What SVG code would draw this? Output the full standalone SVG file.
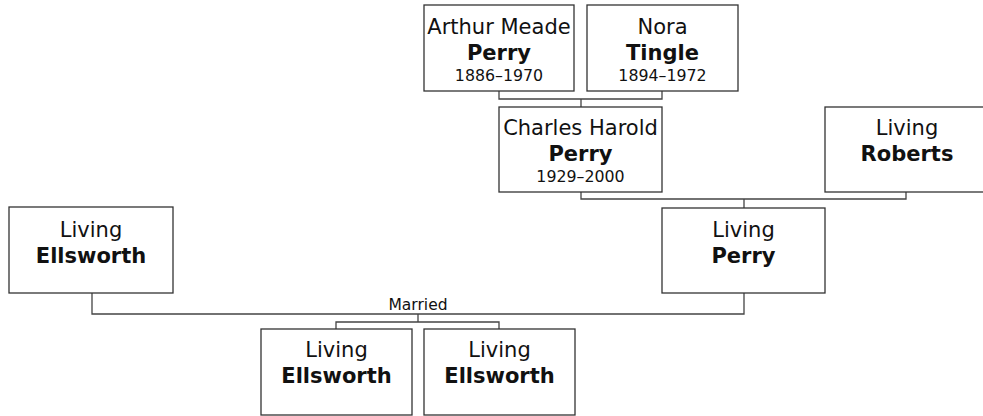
<svg xmlns="http://www.w3.org/2000/svg" width="983" height="416" viewBox="0 0 983 416">
<style>
.box{fill:#fff;stroke:#333;stroke-width:1.3}
.ln{fill:none;stroke:#444;stroke-width:1.3}
text{font-family:"DejaVu Sans","Verdana",sans-serif;text-anchor:middle;fill:#111}
.n{font-size:21px}
.b{font-size:21px;font-weight:bold}
.d{font-size:15.8px}
.m{font-size:15.5px}
</style>
<rect width="983" height="416" fill="#fff"/>
<g id="connectors">
<path class="ln" d="M499,91 V99 H662 V91 M581,99 V107"/>
<path class="ln" d="M581,192 V199 H906 V192 M744,199 V208"/>
<path class="ln" d="M92,293 V314 H744 V293 M418,314 V322 M336,329 V322 H499 V329"/>
<text class="m" x="418" y="310">Married</text>
</g>
<g id="arthur">
<rect class="box" x="424" y="5" width="150" height="86"/>
<text class="n" x="499" y="34">Arthur Meade</text>
<text class="b" x="499" y="60">Perry</text>
<text class="d" x="499" y="81">1886–1970</text>
</g>
<g id="nora">
<rect class="box" x="587" y="5" width="151" height="86"/>
<text class="n" x="662.5" y="34">Nora</text>
<text class="b" x="662.5" y="60">Tingle</text>
<text class="d" x="662.5" y="81">1894–1972</text>
</g>
<g id="charles">
<rect class="box" x="499" y="107" width="163" height="85"/>
<text class="n" x="580.5" y="135">Charles Harold</text>
<text class="b" x="580.5" y="161">Perry</text>
<text class="d" x="580.5" y="182">1929–2000</text>
</g>
<g id="roberts">
<rect class="box" x="825" y="107" width="164" height="85"/>
<text class="n" x="907" y="135">Living</text>
<text class="b" x="907" y="161">Roberts</text>
</g>
<g id="perry">
<rect class="box" x="662" y="208" width="163" height="85"/>
<text class="n" x="743.5" y="237">Living</text>
<text class="b" x="743.5" y="263">Perry</text>
</g>
<g id="ellsworth">
<rect class="box" x="9" y="207" width="164" height="86"/>
<text class="n" x="91" y="237">Living</text>
<text class="b" x="91" y="263">Ellsworth</text>
</g>
<g id="child1">
<rect class="box" x="261" y="329" width="151" height="86"/>
<text class="n" x="336.5" y="357">Living</text>
<text class="b" x="336.5" y="383">Ellsworth</text>
</g>
<g id="child2">
<rect class="box" x="424" y="329" width="151" height="86"/>
<text class="n" x="499.5" y="357">Living</text>
<text class="b" x="499.5" y="383">Ellsworth</text>
</g>
</svg>
